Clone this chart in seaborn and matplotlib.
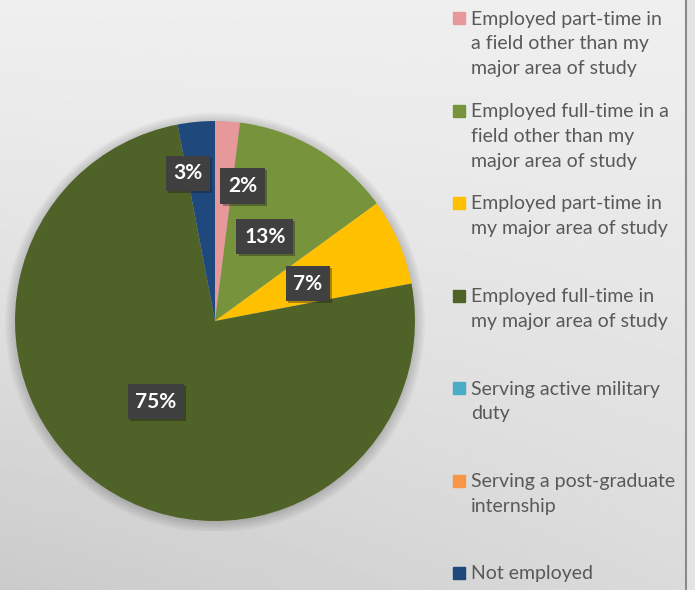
import matplotlib
matplotlib.use("Agg")
import matplotlib.pyplot as plt
import matplotlib.patheffects as pe
from matplotlib.patches import Circle, Rectangle
import numpy as np
import seaborn as sns

# employment status of graduates (percent of respondents)
categories = [
    "Employed part-time in a field other than my major area of study",
    "Employed full-time in a field other than my major area of study",
    "Employed part-time in my major area of study",
    "Employed full-time in my major area of study",
    "Serving active military duty",
    "Serving a post-graduate internship",
    "Not employed",
]
legend_labels = [
    "Employed part-time in\na field other than my\nmajor area of study",
    "Employed full-time in a\nfield other than my\nmajor area of study",
    "Employed part-time in\nmy major area of study",
    "Employed full-time in\nmy major area of study",
    "Serving active military\nduty",
    "Serving a post-graduate\ninternship",
    "Not employed",
]
shares = [2, 13, 7, 75, 0, 0, 3]
colors = ["#E6989A", "#77933C", "#FFC000", "#4F6228", "#4BACC6", "#F79646", "#1F497D"]

sns.set_theme(style="white")
plt.rcParams["font.family"] = ["Lato", "DejaVu Sans"]
palette = sns.color_palette(colors)

fig = plt.figure(figsize=(6.95, 5.90), dpi=100)

# background with soft gray gradient, in pixel units
bg = fig.add_axes([0, 0, 1, 1])
bg.set_xlim(0, 695)
bg.set_ylim(590, 0)
bg.axis("off")
yy, xx = np.mgrid[0:1:200j, 0:1:200j]
shade = 0.935 - 0.14 * yy**1.3 * (1 - 0.45 * xx)
bg.imshow(shade, cmap="gray", vmin=0, vmax=1, extent=(0, 695, 590, 0),
          aspect="auto", zorder=0)
bg.axvspan(686, 695, color="#e4e4e4", zorder=1)
bg.axvline(685.5, color="#8a8a8a", lw=1.5, zorder=2)

# pie
ax = fig.add_axes([5 / 695, 59 / 590, 420 / 695, 420 / 590])
for r in np.linspace(1.0, 1.05, 8):
    ax.add_patch(Circle((0, -0.008), r, color="black", alpha=0.025, lw=0, zorder=0))

wedges, texts, autotexts = ax.pie(
    shares,
    colors=palette,
    startangle=90,
    counterclock=False,
    autopct=lambda p: f"{p:.0f}%" if p >= 1 else "",
    pctdistance=0.5,
    wedgeprops=dict(linewidth=0),
    textprops=dict(color="white", fontsize=15, fontweight="bold"),
)
ax.set_xlim(-1.05, 1.05)
ax.set_ylim(-1.05, 1.05)

# data labels in dark boxes, small slices pushed outward
label_radius = [0.69, 0.49, 0.5, 0.5, 0.5, 0.5, 0.75]
label_shift = [-8, 0, -1.5, -2, 0, 0, 5]
for w, t, r, s in zip(wedges, autotexts, label_radius, label_shift):
    if not t.get_text():
        continue
    ang = np.deg2rad((w.theta1 + w.theta2) / 2 + s)
    t.set_position((r * np.cos(ang), r * np.sin(ang)))
    t.set_bbox(dict(boxstyle="square,pad=0.37", fc="#404040", ec="none"))
    t.get_bbox_patch().set_path_effects(
        [pe.SimplePatchShadow(offset=(1.5, -1.5), alpha=0.35), pe.Normal()]
    )

# legend on the right, one slot per category
for i, (lab, col) in enumerate(zip(legend_labels, palette)):
    yc = 18 + i * 92.5
    bg.add_patch(Rectangle((453, yc - 6), 12, 12, color=col, zorder=3))
    bg.text(471, yc - 7.5, lab, ha="left", va="top", fontsize=14,
            color="#595959", linespacing=1.57, zorder=3)

fig.savefig("out.png", dpi=100)
